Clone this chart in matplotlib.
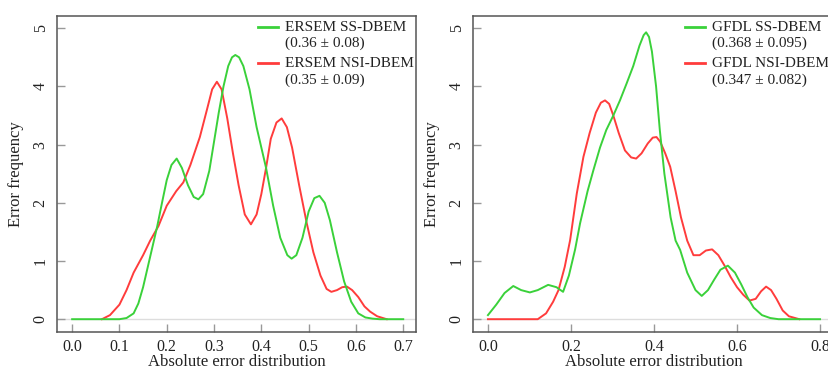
import matplotlib
matplotlib.use("Agg")
import matplotlib.pyplot as plt

plt.rcParams['font.family'] = ['Liberation Serif', 'DejaVu Serif']

# ERSEM panel
ersem_x_ss = [0.00, 0.10, 0.115, 0.13, 0.14, 0.15, 0.16, 0.17, 0.18, 0.19, 0.20, 0.21,
              0.221, 0.232, 0.245, 0.257, 0.267, 0.277, 0.29, 0.30, 0.31, 0.32, 0.33, 0.338,
              0.345, 0.353, 0.362, 0.375, 0.39, 0.41, 0.425, 0.44, 0.455, 0.464, 0.474, 0.487,
              0.50, 0.512, 0.523, 0.534, 0.545, 0.56, 0.575, 0.59, 0.605, 0.62, 0.635, 0.65, 0.70]
ersem_y_ss = [0.0, 0.0, 0.02, 0.1, 0.27, 0.55, 0.9, 1.25, 1.6, 2.0, 2.39, 2.65,
              2.76, 2.6, 2.3, 2.1, 2.06, 2.15, 2.55, 3.05, 3.55, 4.0, 4.35, 4.5,
              4.54, 4.5, 4.35, 3.95, 3.3, 2.6, 1.95, 1.4, 1.1, 1.04, 1.1, 1.4,
              1.85, 2.08, 2.12, 2.0, 1.7, 1.15, 0.65, 0.3, 0.1, 0.03, 0.01, 0.0, 0.0]
ersem_x_nsi = [0.063, 0.08, 0.10, 0.115, 0.13, 0.15, 0.165, 0.1825, 0.20, 0.22, 0.235, 0.25,
               0.27, 0.285, 0.296, 0.306, 0.316, 0.328, 0.34, 0.352, 0.365, 0.378, 0.39, 0.40,
               0.41, 0.42, 0.432, 0.443, 0.454, 0.465, 0.48, 0.496, 0.51, 0.525, 0.538, 0.548,
               0.56, 0.571, 0.581, 0.592, 0.605, 0.618, 0.63, 0.645, 0.665]
ersem_y_nsi = [0.0, 0.07, 0.25, 0.5, 0.8, 1.1, 1.35, 1.6, 1.95, 2.2, 2.35, 2.65,
               3.13, 3.6, 3.95, 4.08, 3.95, 3.45, 2.85, 2.3, 1.8, 1.63, 1.8, 2.15,
               2.6, 3.1, 3.38, 3.45, 3.3, 2.95, 2.3, 1.65, 1.15, 0.75, 0.52, 0.47,
               0.5, 0.55, 0.56, 0.5, 0.38, 0.22, 0.13, 0.05, 0.0]

# GFDL panel
gfdl_x_ss = [0.00, 0.02, 0.04, 0.061, 0.08, 0.101, 0.12, 0.145, 0.165, 0.181, 0.195, 0.21,
             0.222, 0.24, 0.254, 0.27, 0.285, 0.302, 0.318, 0.334, 0.35, 0.365, 0.375, 0.381,
             0.388, 0.395, 0.405, 0.414, 0.425, 0.44, 0.452, 0.463, 0.48, 0.50, 0.515, 0.53,
             0.545, 0.56, 0.578, 0.595, 0.61, 0.625, 0.64, 0.66, 0.68, 0.70, 0.80]
gfdl_y_ss = [0.07, 0.25, 0.45, 0.57, 0.5, 0.46, 0.5, 0.59, 0.55, 0.47, 0.75, 1.2,
             1.65, 2.2, 2.56, 2.95, 3.25, 3.5, 3.76, 4.05, 4.35, 4.7, 4.88, 4.93,
             4.85, 4.6, 4.0, 3.25, 2.5, 1.75, 1.35, 1.19, 0.8, 0.5, 0.4, 0.5,
             0.68, 0.85, 0.92, 0.8, 0.6, 0.38, 0.2, 0.07, 0.02, 0.0, 0.0]
gfdl_x_nsi = [0.00, 0.12, 0.14, 0.157, 0.17, 0.185, 0.198, 0.214, 0.23, 0.245, 0.26, 0.272,
              0.282, 0.292, 0.302, 0.315, 0.33, 0.345, 0.357, 0.37, 0.385, 0.397, 0.406, 0.415,
              0.427, 0.439, 0.452, 0.465, 0.48, 0.495, 0.51, 0.525, 0.54, 0.555, 0.57, 0.585,
              0.60, 0.615, 0.63, 0.645, 0.658, 0.67, 0.682, 0.695, 0.71, 0.725, 0.75]
gfdl_y_nsi = [0.0, 0.0, 0.1, 0.3, 0.5, 0.9, 1.36, 2.16, 2.79, 3.2, 3.55, 3.72,
              3.76, 3.7, 3.5, 3.2, 2.9, 2.78, 2.76, 2.85, 3.02, 3.12, 3.13, 3.05,
              2.85, 2.62, 2.2, 1.75, 1.35, 1.1, 1.1, 1.18, 1.2, 1.1, 0.92, 0.72,
              0.55, 0.42, 0.32, 0.35, 0.48, 0.56, 0.5, 0.35, 0.15, 0.05, 0.0]

ersem_labels = ["ERSEM SS-DBEM", "(0.36 \u00b1 0.08)", "ERSEM NSI-DBEM", "(0.35 \u00b1 0.09)"]
gfdl_labels = ["GFDL SS-DBEM", "(0.368 \u00b1 0.095)", "GFDL NSI-DBEM", "(0.347 \u00b1 0.082)"]

GREEN = '#3ad13a'
RED = '#ff3c3c'
TXT = '#222222'

fig = plt.figure(figsize=(8.29, 3.69), dpi=100)
ax1 = fig.add_axes([57/829, 37/369, 359/829, 316/369])
ax2 = fig.add_axes([473/829, 37/369, 362/829, 316/369])


def style(ax, xlim, xticks):
    ax.set_xlim(*xlim)
    ax.set_ylim(-0.22, 5.21)
    ax.set_xticks(xticks)
    ax.set_xticklabels(['%.1f' % t for t in xticks])
    ax.set_yticks(range(6))
    for lab in ax.get_yticklabels():
        lab.set_rotation(90)
        lab.set_va('center')
    ax.tick_params(direction='in', length=6, width=1, color='#999999',
                   labelsize=11.5, labelcolor=TXT)
    ax.tick_params(axis='y', pad=6)
    ax.tick_params(axis='x', pad=5)
    for s in ax.spines.values():
        s.set_color('#555555')
        s.set_linewidth(1.1)
    ax.axhline(0, color='#dddddd', lw=1.0, zorder=1)
    ax.set_xlabel('Absolute error distribution', fontsize=12, color=TXT, labelpad=-0.5)
    ax.set_ylabel('Error frequency', fontsize=12, color=TXT, labelpad=6)


def legend(ax, labels, x0, x1, xt):
    ys = [0.965, 0.914, 0.851, 0.797]
    for y, c in ((ys[0], GREEN), (ys[2], RED)):
        ax.plot([x0, x1], [y, y], color=c, lw=2, transform=ax.transAxes, clip_on=False)
    for y, t in zip(ys, labels):
        ax.text(xt, y, t, transform=ax.transAxes, fontsize=11, color=TXT,
                va='center', ha='left')


ax1.plot(ersem_x_ss, ersem_y_ss, color=GREEN, lw=1.4, zorder=3)
ax1.plot(ersem_x_nsi, ersem_y_nsi, color=RED, lw=1.4, zorder=2)
style(ax1, (-0.032, 0.727), [0.0, 0.1, 0.2, 0.3, 0.4, 0.5, 0.6, 0.7])
legend(ax1, ersem_labels, 0.56, 0.616, 0.635)

ax2.plot(gfdl_x_ss, gfdl_y_ss, color=GREEN, lw=1.4, zorder=3)
ax2.plot(gfdl_x_nsi, gfdl_y_nsi, color=RED, lw=1.4, zorder=2)
style(ax2, (-0.036, 0.836), [0.0, 0.2, 0.4, 0.6, 0.8])
legend(ax2, gfdl_labels, 0.586, 0.641, 0.66)

fig.savefig('out.png', dpi=100)
